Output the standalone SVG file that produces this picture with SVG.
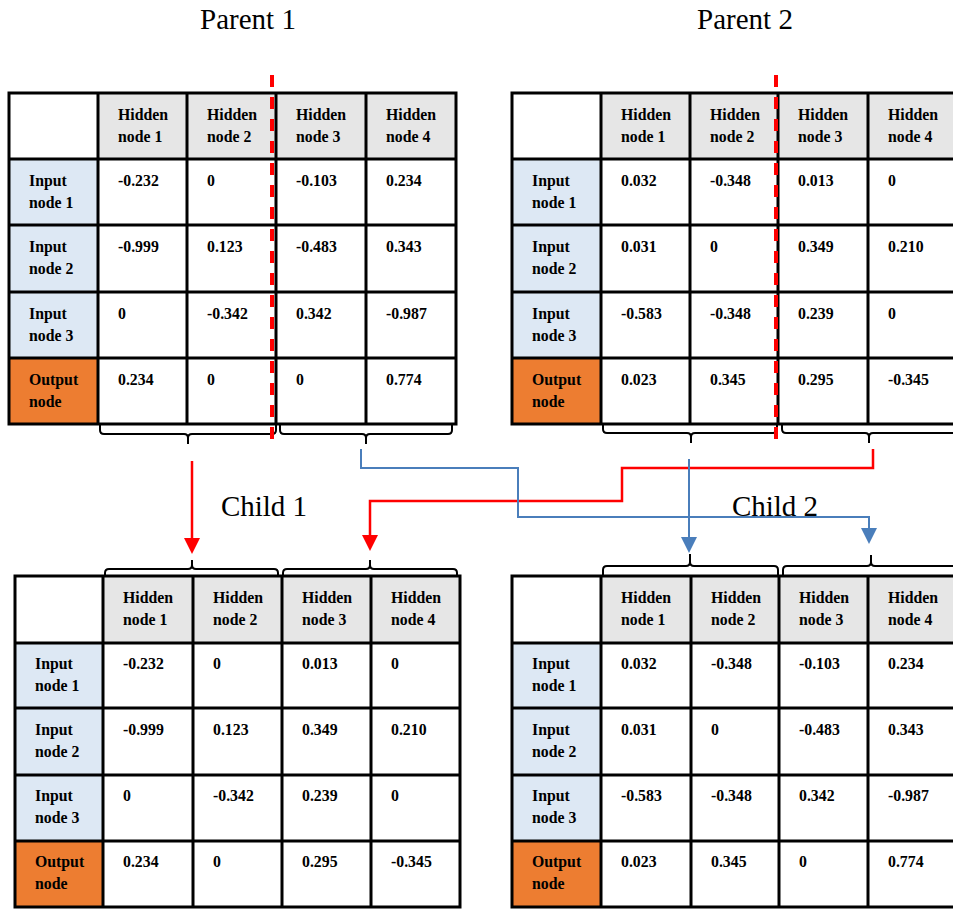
<svg xmlns="http://www.w3.org/2000/svg" width="953" height="909" viewBox="0 0 953 909">
  <style>
    .hdr { fill: #e6e6e6; }
    .inp { fill: #dde8f4; }
    .out { fill: #ed7d31; }
    .grid { fill: none; stroke: #000; stroke-width: 3; }
    .brace { fill: none; stroke: #000; stroke-width: 2; }
    .cut { stroke: #ff0000; stroke-width: 4; stroke-dasharray: 12 10; }
    .red { fill: none; stroke: #ff0000; stroke-width: 2.5; }
    .blue { fill: none; stroke: #4a7ebb; stroke-width: 2; }
    text { font-family: "Liberation Serif", "Times New Roman", serif; fill: #000; }
    .c { font-size: 15.8px; font-weight: bold; }
    .title { font-size: 29px; text-anchor: middle; }
  </style>
  <defs>
    <marker id="headRed" viewBox="0 0 16 16" refX="0" refY="8" markerWidth="16" markerHeight="16" markerUnits="userSpaceOnUse" orient="auto">
      <path d="M0,0 L16,8 L0,16 z" fill="#ff0000"/>
    </marker>
    <marker id="headBlue" viewBox="0 0 16 16" refX="0" refY="8" markerWidth="16" markerHeight="16" markerUnits="userSpaceOnUse" orient="auto">
      <path d="M0,0 L16,8 L0,16 z" fill="#4a7ebb"/>
    </marker>
  </defs>

  <!-- titles -->
  <text class="title" x="248" y="29">Parent 1</text>
  <text class="title" x="745" y="29">Parent 2</text>
  <text class="title" x="264" y="516">Child 1</text>
  <text class="title" x="775" y="516">Child 2</text>

  <!-- Parent 1 weight table -->
  <g id="parent1">
    <rect x="9" y="93" width="447" height="331" fill="#fff"/>
    <rect class="hdr" x="98" y="93" width="358" height="66"/>
    <rect class="inp" x="9" y="159" width="89" height="199"/>
    <rect class="out" x="9" y="358" width="89" height="66"/>
    <path class="grid" d="M9 93 H456 V424 H9 Z M98 93 V424 M187 93 V424 M276 93 V424 M366 93 V424 M9 159 H456 M9 225 H456 M9 292 H456 M9 358 H456"/>
    <g class="c">
      <text x="118" y="120">Hidden</text><text x="118" y="142">node 1</text>
      <text x="207" y="120">Hidden</text><text x="207" y="142">node 2</text>
      <text x="296" y="120">Hidden</text><text x="296" y="142">node 3</text>
      <text x="386" y="120">Hidden</text><text x="386" y="142">node 4</text>
      <text x="29" y="186">Input</text><text x="29" y="208">node 1</text>
      <text x="118" y="186">-0.232</text><text x="207" y="186">0</text><text x="296" y="186">-0.103</text><text x="386" y="186">0.234</text>
      <text x="29" y="252">Input</text><text x="29" y="274">node 2</text>
      <text x="118" y="252">-0.999</text><text x="207" y="252">0.123</text><text x="296" y="252">-0.483</text><text x="386" y="252">0.343</text>
      <text x="29" y="319">Input</text><text x="29" y="341">node 3</text>
      <text x="118" y="319">0</text><text x="207" y="319">-0.342</text><text x="296" y="319">0.342</text><text x="386" y="319">-0.987</text>
      <text x="29" y="385">Output</text><text x="29" y="407">node</text>
      <text x="118" y="385">0.234</text><text x="207" y="385">0</text><text x="296" y="385">0</text><text x="386" y="385">0.774</text>
    </g>
    <path class="brace" d="M100 424 V430 Q100 434 104 434 H184 Q188 434 188 438 V444 M188 438 Q188 434 192 434 H272 Q276 434 276 430 V424"/>
    <path class="brace" d="M280 424 V430 Q280 434 284 434 H362 Q366 434 366 438 V444 M366 438 Q366 434 370 434 H448 Q452 434 452 430 V424"/>
    <line class="cut" x1="272" y1="75" x2="272" y2="447"/>
  </g>

  <!-- Parent 2 weight table -->
  <g id="parent2">
    <rect x="512" y="93" width="446" height="331" fill="#fff"/>
    <rect class="hdr" x="601" y="93" width="357" height="66"/>
    <rect class="inp" x="512" y="159" width="89" height="199"/>
    <rect class="out" x="512" y="358" width="89" height="66"/>
    <path class="grid" d="M958 93 H512 V424 H958 M601 93 V424 M690 93 V424 M778 93 V424 M868 93 V424 M512 159 H958 M512 225 H958 M512 292 H958 M512 358 H958"/>
    <g class="c">
      <text x="621" y="120">Hidden</text><text x="621" y="142">node 1</text>
      <text x="710" y="120">Hidden</text><text x="710" y="142">node 2</text>
      <text x="798" y="120">Hidden</text><text x="798" y="142">node 3</text>
      <text x="888" y="120">Hidden</text><text x="888" y="142">node 4</text>
      <text x="532" y="186">Input</text><text x="532" y="208">node 1</text>
      <text x="621" y="186">0.032</text><text x="710" y="186">-0.348</text><text x="798" y="186">0.013</text><text x="888" y="186">0</text>
      <text x="532" y="252">Input</text><text x="532" y="274">node 2</text>
      <text x="621" y="252">0.031</text><text x="710" y="252">0</text><text x="798" y="252">0.349</text><text x="888" y="252">0.210</text>
      <text x="532" y="319">Input</text><text x="532" y="341">node 3</text>
      <text x="621" y="319">-0.583</text><text x="710" y="319">-0.348</text><text x="798" y="319">0.239</text><text x="888" y="319">0</text>
      <text x="532" y="385">Output</text><text x="532" y="407">node</text>
      <text x="621" y="385">0.023</text><text x="710" y="385">0.345</text><text x="798" y="385">0.295</text><text x="888" y="385">-0.345</text>
    </g>
    <path class="brace" d="M603 424 V429 Q603 433 607 433 H687 Q691 433 691 437 V443 M691 437 Q691 433 695 433 H773 Q777 433 777 429 V424"/>
    <path class="brace" d="M782 424 V429 Q782 433 786 433 H865 Q869 433 869 437 V443 M869 437 Q869 433 873 433 H958"/>
    <line class="cut" x1="776" y1="75" x2="776" y2="447"/>
  </g>

  <!-- Child 1 weight table -->
  <g id="child1">
    <rect x="15" y="576" width="445" height="331" fill="#fff"/>
    <rect class="hdr" x="103" y="576" width="357" height="67"/>
    <rect class="inp" x="15" y="643" width="88" height="198"/>
    <rect class="out" x="15" y="841" width="88" height="66"/>
    <path class="grid" d="M15 576 H460 V907 H15 Z M103 576 V907 M193 576 V907 M282 576 V907 M371 576 V907 M15 643 H460 M15 708 H460 M15 775 H460 M15 841 H460"/>
    <g class="c">
      <text x="123" y="603">Hidden</text><text x="123" y="625">node 1</text>
      <text x="213" y="603">Hidden</text><text x="213" y="625">node 2</text>
      <text x="302" y="603">Hidden</text><text x="302" y="625">node 3</text>
      <text x="391" y="603">Hidden</text><text x="391" y="625">node 4</text>
      <text x="35" y="669">Input</text><text x="35" y="691">node 1</text>
      <text x="123" y="669">-0.232</text><text x="213" y="669">0</text><text x="302" y="669">0.013</text><text x="391" y="669">0</text>
      <text x="35" y="735">Input</text><text x="35" y="757">node 2</text>
      <text x="123" y="735">-0.999</text><text x="213" y="735">0.123</text><text x="302" y="735">0.349</text><text x="391" y="735">0.210</text>
      <text x="35" y="801">Input</text><text x="35" y="823">node 3</text>
      <text x="123" y="801">0</text><text x="213" y="801">-0.342</text><text x="302" y="801">0.239</text><text x="391" y="801">0</text>
      <text x="35" y="867">Output</text><text x="35" y="889">node</text>
      <text x="123" y="867">0.234</text><text x="213" y="867">0</text><text x="302" y="867">0.295</text><text x="391" y="867">-0.345</text>
    </g>
    <path class="brace" d="M105 576 V573 Q105 569 109 569 H188 Q192 569 192 565 V560 M192 565 Q192 569 196 569 H274 Q278 569 278 573 V576"/>
    <path class="brace" d="M283 576 V573 Q283 569 287 569 H366 Q370 569 370 565 V560 M370 565 Q370 569 374 569 H453 Q457 569 457 573 V576"/>
  </g>

  <!-- Child 2 weight table -->
  <g id="child2">
    <rect x="512" y="576" width="446" height="331" fill="#fff"/>
    <rect class="hdr" x="601" y="576" width="357" height="67"/>
    <rect class="inp" x="512" y="643" width="89" height="198"/>
    <rect class="out" x="512" y="841" width="89" height="66"/>
    <path class="grid" d="M958 576 H512 V907 H958 M601 576 V907 M691 576 V907 M779 576 V907 M868 576 V907 M512 643 H958 M512 708 H958 M512 775 H958 M512 841 H958"/>
    <g class="c">
      <text x="621" y="603">Hidden</text><text x="621" y="625">node 1</text>
      <text x="711" y="603">Hidden</text><text x="711" y="625">node 2</text>
      <text x="799" y="603">Hidden</text><text x="799" y="625">node 3</text>
      <text x="888" y="603">Hidden</text><text x="888" y="625">node 4</text>
      <text x="532" y="669">Input</text><text x="532" y="691">node 1</text>
      <text x="621" y="669">0.032</text><text x="711" y="669">-0.348</text><text x="799" y="669">-0.103</text><text x="888" y="669">0.234</text>
      <text x="532" y="735">Input</text><text x="532" y="757">node 2</text>
      <text x="621" y="735">0.031</text><text x="711" y="735">0</text><text x="799" y="735">-0.483</text><text x="888" y="735">0.343</text>
      <text x="532" y="801">Input</text><text x="532" y="823">node 3</text>
      <text x="621" y="801">-0.583</text><text x="711" y="801">-0.348</text><text x="799" y="801">0.342</text><text x="888" y="801">-0.987</text>
      <text x="532" y="867">Output</text><text x="532" y="889">node</text>
      <text x="621" y="867">0.023</text><text x="711" y="867">0.345</text><text x="799" y="867">0</text><text x="888" y="867">0.774</text>
    </g>
    <path class="brace" d="M603 576 V570 Q603 566 607 566 H686 Q690 566 690 562 V554 M690 562 Q690 566 694 566 H774 Q778 566 778 570 V576"/>
    <path class="brace" d="M783 576 V570 Q783 566 787 566 H867 Q871 566 871 562 V555 M871 562 Q871 566 875 566 H958"/>
  </g>

  <!-- crossover connectors -->
  <g id="connectors">
    <path class="red" d="M192 461 V538" marker-end="url(#headRed)"/>
    <path class="red" d="M873 449 V468 H622 V501 H370 V535" marker-end="url(#headRed)"/>
    <path class="blue" d="M361 449 V468 H518 V517 H869 V528" marker-end="url(#headBlue)"/>
    <path class="blue" d="M689 459 V537" marker-end="url(#headBlue)"/>
  </g>
</svg>
